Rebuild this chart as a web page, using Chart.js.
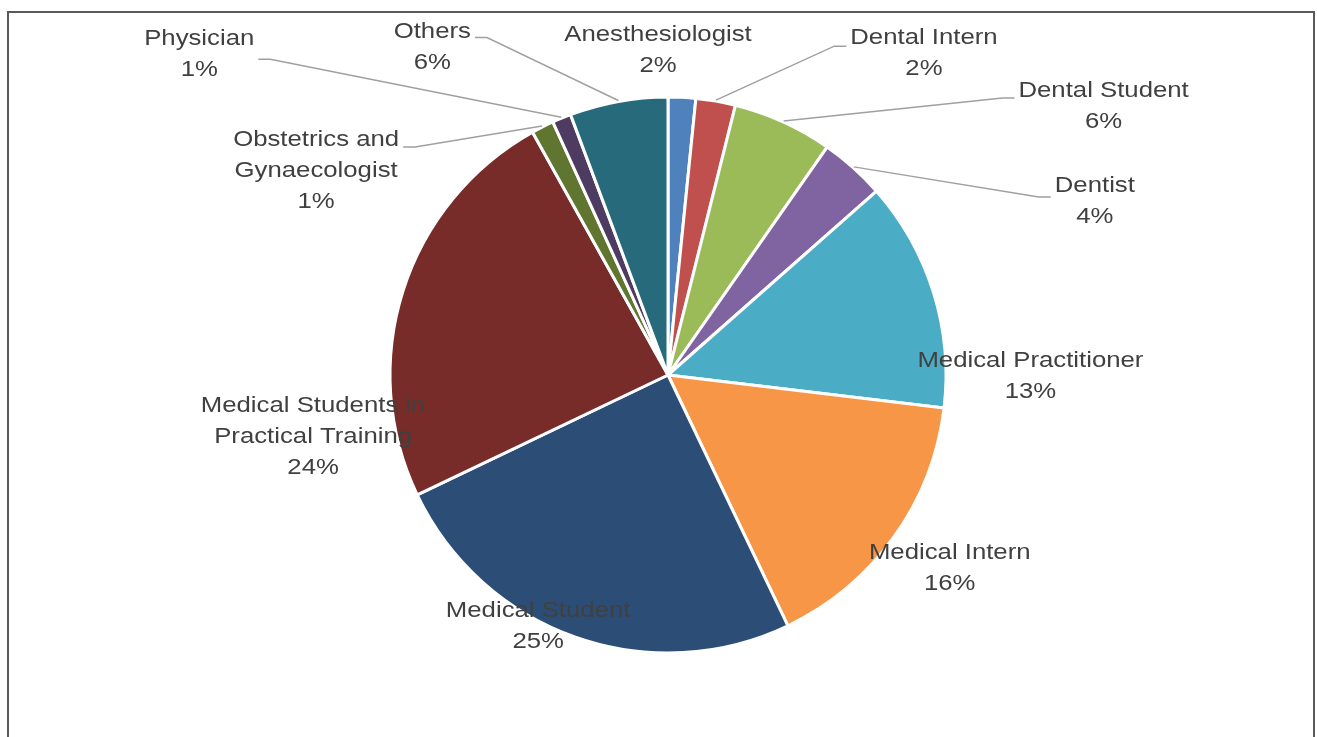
<!DOCTYPE html>
<html>
<head>
<meta charset="utf-8">
<title>Respondents by profession</title>
<script src="https://cdn.jsdelivr.net/npm/chart.js@4.4.1/dist/chart.umd.min.js"></script>
<style>
  html, body { margin: 0; padding: 0; background: #fff; }
  canvas { display: block; }
</style>
</head>
<body>
<canvas id="pieChart" width="1317" height="737"></canvas>
<script>
// categories (multi-line where the label wraps)
const categories = [
    'Anesthesiologist',
    'Dental Intern',
    'Dental Student',
    'Dentist',
    'Medical Practitioner',
    'Medical Intern',
    'Medical Student',
    ['Medical Students in', 'Practical Training'],
    ['Obstetrics and', 'Gynaecologist'],
    'Physician',
    'Others'
];
// share of respondents (percent)
const shares = [1.6, 2.3, 5.8, 3.8, 13.4, 16.0, 25.0, 24.0, 1.3, 1.1, 5.7];
const sliceColors = ['#4F81BD', '#C0504D', '#9BBB59', '#8064A2', '#4BACC6', '#F79646',
    '#2C4D75', '#772C2A', '#5F7530', '#4D3B62', '#276A7C'];

// where each label sits relative to the outer middle of its slice (px)
const labelShift = [[-24, -46], [208, -47], [320, -15], [241, 35], [96, 84], [55, 31],
    [-37, -12], [-89, 146], [-226, 45], [-362, -63], [-186, -53]];
// leader lines: which side of the label they leave from, and vertical offset
const leaders = [null, {side: 'left', dy: -7}, {side: 'left', dy: -8}, {side: 'left', dy: -5},
    null, null, null, null, {side: 'right', dy: -24}, {side: 'right', dy: 5}, {side: 'right', dy: -10}];

const fontSize = 22;
const lineGap = 31;
const stretch = 1.17; // labels in the picture are drawn a bit wide

const framePlugin = {
    id: 'frame',
    beforeDraw(chart) {
        const ctx = chart.ctx;
        ctx.save();
        ctx.strokeStyle = '#595959';
        ctx.lineWidth = 2;
        ctx.strokeRect(8, 12, 1306, 740);
        ctx.restore();
    }
};

const labelPlugin = {
    id: 'sliceLabels',
    afterDraw(chart) {
        const ctx = chart.ctx;
        const meta = chart.getDatasetMeta(0);
        const total = shares.reduce((a, b) => a + b, 0);
        ctx.save();
        ctx.font = fontSize + 'px "Liberation Sans", Arial, sans-serif';
        ctx.textAlign = 'center';
        ctx.textBaseline = 'middle';
        meta.data.forEach((arc, i) => {
            const p = arc.getProps(['x', 'y', 'startAngle', 'endAngle', 'outerRadius'], true);
            const mid = (p.startAngle + p.endAngle) / 2;
            const ax = p.x + Math.cos(mid) * (p.outerRadius + 1);
            const ay = p.y + Math.sin(mid) * (p.outerRadius + 1);
            const cx = ax + labelShift[i][0];
            const cy = ay + labelShift[i][1];

            const name = categories[i];
            const lines = (Array.isArray(name) ? name.slice() : [name]);
            lines.push(Math.round(shares[i] / total * 100) + '%');

            const w = Math.max(...lines.map(l => ctx.measureText(l).width)) * stretch;
            const top = cy - (lines.length - 1) * lineGap / 2;

            if (leaders[i]) {
                const ld = leaders[i];
                const ex = ld.side === 'left' ? cx - w / 2 - 4 : cx + w / 2 + 4;
                const ey = cy + ld.dy;
                const stub = ld.side === 'left' ? -12 : 12;
                ctx.strokeStyle = '#a0a0a0';
                ctx.lineWidth = 1.5;
                ctx.beginPath();
                ctx.moveTo(ex, ey);
                ctx.lineTo(ex + stub, ey);
                ctx.lineTo(ax, ay);
                ctx.stroke();
            }

            ctx.fillStyle = '#404040';
            lines.forEach((l, k) => {
                ctx.save();
                ctx.translate(cx, top + k * lineGap);
                ctx.scale(stretch, 1);
                ctx.fillText(l, 0, 0);
                ctx.restore();
            });
        });
        ctx.restore();
    }
};

new Chart(document.getElementById('pieChart').getContext('2d'), {
    type: 'pie',
    data: {
        labels: categories,
        datasets: [{
            data: shares,
            backgroundColor: sliceColors,
            borderColor: '#ffffff',
            borderWidth: 3
        }]
    },
    options: {
        responsive: false,
        animation: false,
        events: [],
        radius: 278,
        layout: { padding: { left: 100, right: 81, top: 90, bottom: 77 } },
        plugins: {
            legend: { display: false },
            tooltip: { enabled: false }
        }
    },
    plugins: [framePlugin, labelPlugin]
});
</script>
</body>
</html>
